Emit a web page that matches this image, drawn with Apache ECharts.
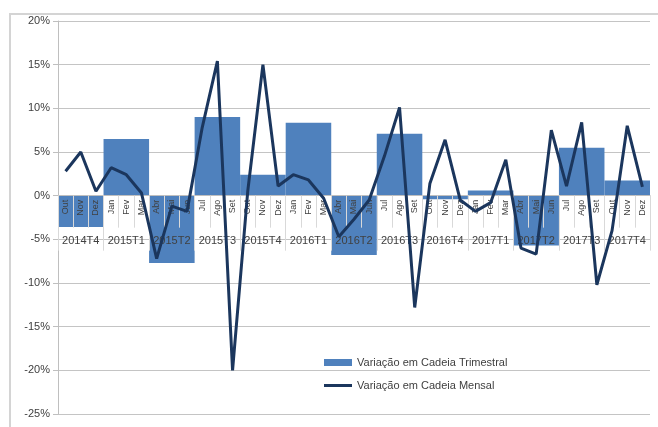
<!DOCTYPE html>
<html>
<head>
<meta charset="utf-8">
<script src="https://cdn.jsdelivr.net/npm/echarts@6/dist/echarts.min.js"></script>
<style>
html,body{margin:0;padding:0;background:#fff;}
#chart{width:658px;height:427px;}
</style>
</head>
<body>
<div id="chart"></div>
<script>
var months = ['Out','Nov','Dez',
  'Jan','Fev','Mar','Abr','Mai','Jun','Jul','Ago','Set','Out','Nov','Dez',
  'Jan','Fev','Mar','Abr','Mai','Jun','Jul','Ago','Set','Out','Nov','Dez',
  'Jan','Fev','Mar','Abr','Mai','Jun','Jul','Ago','Set','Out','Nov','Dez'];
var quarters = ['2014T4','2015T1','2015T2','2015T3','2015T4','2016T1','2016T2','2016T3','2016T4','2017T1','2017T2','2017T3','2017T4'];
var quarterlyChange = [-3.6, 6.5, -7.7, 9.0, 2.4, 8.35, -6.8, 7.1, -0.4, 0.6, -5.7, 5.5, 1.75];
var monthlyChange = [2.8, 5.0, 0.5,
  3.2, 2.4, 0.3, -7.2, -1.2, -1.8, 7.8, 15.4, -20.0, 0.5, 15.0, 1.1,
  2.4, 1.8, -0.3, -4.7, -2.7, -0.5, 4.5, 10.1, -12.8, 1.4, 6.4, -0.5,
  -1.8, -0.8, 4.1, -6.0, -6.7, 7.5, 1.1, 8.4, -10.2, -4.0, 8.0, 1.0];
var yTicks = {min: -25, max: 20, step: 5};
var seriesNames = ['Variação em Cadeia Trimestral', 'Variação em Cadeia Mensal'];

var chart = echarts.init(document.getElementById('chart'), null, {renderer: 'canvas'});
var font = 'Liberation Sans, Arial, sans-serif';
var txt = '#404040';
var gridRect = {left: 58, right: 8, top: 21, bottom: 13};

chart.setOption({
  animation: false,
  textStyle: {fontFamily: font},
  graphic: [{
    type: 'rect', z: -10,
    shape: {x: 10, y: 14, width: 700, height: 450},
    style: {fill: 'none', stroke: '#d4d4d4', lineWidth: 2}
  }],
  grid: [
    Object.assign({containLabel: false}, gridRect),
    Object.assign({containLabel: false}, gridRect)
  ],
  legend: {
    orient: 'vertical', left: 324, top: 357, itemGap: 12, padding: 0,
    itemWidth: 28, itemHeight: 7, symbolKeepAspect: true,
    textStyle: {fontSize: 11, color: txt, fontFamily: font},
    data: [
      {name: seriesNames[0], icon: 'rect'},
      {name: seriesNames[1], icon: 'path://M0,0 L28,0 L28,3 L0,3 Z'}
    ]
  },
  xAxis: [{
    // data axis for the monthly line (plot grid)
    gridIndex: 0, type: 'category', position: 'bottom', data: months, boundaryGap: true, show: false
  }, {
    // data axis for the quarterly bars (plot grid)
    gridIndex: 0, type: 'category', position: 'bottom', data: quarters, boundaryGap: true, show: false
  }, {
    // month labels, placed at the zero line
    gridIndex: 1, type: 'category', position: 'bottom', data: months, boundaryGap: true, z: 5,
    axisLine: {show: true, onZero: false, lineStyle: {color: '#bfbfbf', width: 1}},
    axisTick: {show: true, length: 32, interval: 0, lineStyle: {color: '#d9d9d9'}},
    axisLabel: {interval: 0, rotate: 90, fontSize: 9, margin: 4, color: txt, fontFamily: font}
  }, {
    // quarter labels, placed below month labels
    gridIndex: 1, type: 'category', position: 'bottom', data: quarters, boundaryGap: true, z: 5,
    axisLine: {show: false, onZero: false},
    axisTick: {show: true, length: 55, interval: 0, lineStyle: {color: '#d9d9d9'}},
    axisLabel: {interval: 0, fontSize: 11, margin: 40, color: txt, fontFamily: font}
  }],
  yAxis: [{
    gridIndex: 0, type: 'value', min: yTicks.min, max: yTicks.max, interval: yTicks.step,
    axisLine: {show: true, lineStyle: {color: '#bfbfbf'}},
    axisTick: {show: true, length: 5, lineStyle: {color: '#bfbfbf'}},
    axisLabel: {formatter: '{value}%', fontSize: 11, color: txt, margin: 8, fontFamily: font},
    splitLine: {lineStyle: {color: '#c4c4c4', width: 1}}
  }, {
    gridIndex: 1, type: 'value', min: 0, max: 1, show: false
  }],
  series: [{
    name: seriesNames[0], type: 'bar', xAxisIndex: 1, yAxisIndex: 0, data: quarterlyChange,
    barCategoryGap: 0, barWidth: '100%',
    itemStyle: {color: '#4f81bd'}, z: 1
  }, {
    name: seriesNames[1], type: 'line', xAxisIndex: 0, yAxisIndex: 0, data: monthlyChange,
    symbol: 'none', smooth: false,
    lineStyle: {color: '#1b365d', width: 3}, itemStyle: {color: '#1b365d'}, z: 6
  }]
});

// Place the label grid's bottom edge on the value axis zero line.
var zeroY = chart.convertToPixel({yAxisIndex: 0}, 0);
chart.setOption({grid: [{}, {bottom: chart.getHeight() - zeroY}]});
</script>
</body>
</html>
